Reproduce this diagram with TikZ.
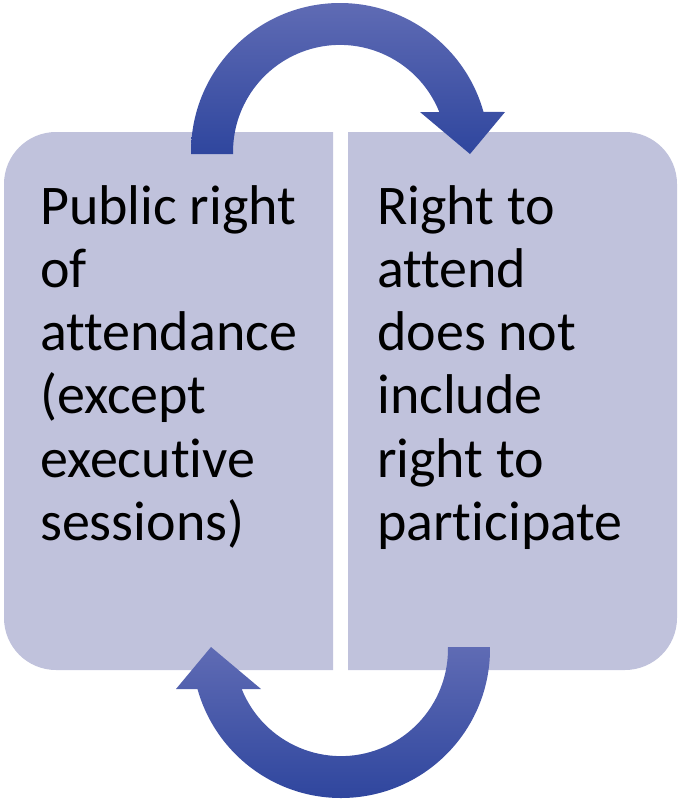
\documentclass[tikz,border=0pt]{standalone}
\usepackage{fontspec}
\setmainfont[Ligatures=NoCommon]{Carlito}
\definecolor{boxfill}{RGB}{192,194,220}
\definecolor{arrowlight}{RGB}{95,107,180}
\definecolor{arrowdark}{RGB}{47,70,158}
\tikzset{
  panel/.style={fill=boxfill, draw=none},
  bigarrow/.style={top color=arrowlight, bottom color=arrowdark, draw=none},
  paneltext/.style={anchor=north west, align=left, inner sep=0pt, text=black,
    font=\fontsize{56}{63.3}\selectfont}
}
\begin{document}
\begin{tikzpicture}[x=1pt,y=-1pt]
\useasboundingbox (0,0) rectangle (679,801);
% left panel (rounded on the left)
\fill[panel] (333,132) -- (56,132) arc[start angle=270, end angle=180, radius=52]
  -- (4,618) arc[start angle=180, end angle=90, radius=52] -- (333,670) -- cycle;
% right panel (rounded on the right)
\fill[panel] (348,132) -- (625,132) arc[start angle=270, end angle=360, radius=52]
  -- (677,618) arc[start angle=0, end angle=90, radius=52] -- (348,670) -- cycle;
% top circular arrow
\path[bigarrow] (191,154) -- (191,152) arc[start angle=180, end angle=344.4, radius=149]
  -- (505,112) -- (470,154) -- (420,112) -- (439.3,112)
  arc[start angle=338.1, end angle=180, radius=107] -- (233,154) -- cycle;
% bottom circular arrow
\path[bigarrow] (490,647) -- (490,649) arc[start angle=0, end angle=164.4, radius=149]
  -- (176,689) -- (211,647) -- (261,689) -- (241.7,689)
  arc[start angle=158.1, end angle=0, radius=107] -- (448,647) -- cycle;
% texts
\node[paneltext] (lefttext) at (40,185) {Public right\\of\\attendance\\(except\\executive\\sessions)};
\node[paneltext] (righttext) at (377,185) {Right to\\attend\\does not\\include\\right to\\participate};
\end{tikzpicture}
\end{document}
